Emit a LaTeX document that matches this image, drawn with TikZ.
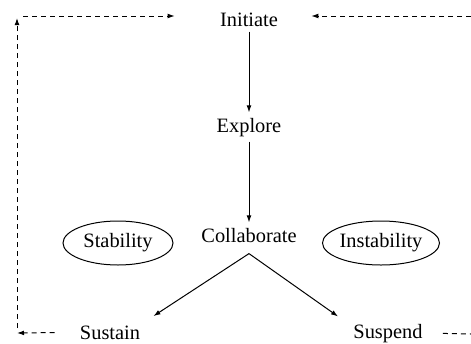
\documentclass[tikz,border=0pt]{standalone}
\usepackage{fontspec}
\setmainfont{Liberation Serif}
\usetikzlibrary{shapes.geometric, arrows.meta, positioning}

\begin{document}
\begin{tikzpicture}[
  x=0.5pt, y=-0.5pt,
  stage/.style={anchor=base, inner sep=2.5pt, font=\fontsize{10.2}{12}\selectfont},
  state/.style={ellipse, draw, line width=0.5pt, inner sep=0pt, minimum width=55pt, minimum height=22pt, font=\fontsize{10.2}{12}\selectfont},
  arrow/.style={-{Latex[length=3.5pt, width=2.4pt]}, line width=0.5pt},
  loop/.style={-{Latex[length=3.5pt, width=2.4pt]}, line width=0.5pt, dash pattern=on 2.5pt off 2pt}
]
  \useasboundingbox (0,0) rectangle (471,343);

  % Stages
  \node[stage] (init) at (249,26) {Initiate};
  \node[stage] (explore) at (249,132) {Explore};
  \node[stage] (collab) at (249,242) {Collaborate};
  \node[stage] (sustain) at (110,339) {Sustain};
  \node[stage] (suspend) at (388,338) {Suspend};

  % States
  \node[state] (stab) at (118,243) {Stability};
  \node[state] (instab) at (381,243) {Instability};

  \coordinate[below=3pt of collab] (split);

  \draw[arrow] (init) -- (explore);
  \draw[arrow] (explore) -- (collab);
  \draw[arrow] (split) -- ([xshift=4pt, yshift=2pt]sustain.north east);
  \draw[arrow] (split) -- ([xshift=-5pt, yshift=1pt]suspend.north west);

  % Loops back to the start
  \coordinate (bl) at (17,333);
  \coordinate (tl) at (17,16);
  \coordinate (tr) at (471,16);
  \coordinate (br) at (471,334);

  \draw[loop, shorten <=10pt] (sustain.west) -- (bl);
  \draw[loop, shorten <=2.5pt, shorten >=1pt] (bl) -- (tl);
  \draw[loop, shorten <=3pt, shorten >=20pt] (tl) -- (tl -| init.west);
  \draw[loop, shorten >=14pt] (tr) -- (tr -| init.east);
  \draw[loop, -, shorten <=7.5pt] (suspend.east) -- (br);
\end{tikzpicture}
\end{document}
